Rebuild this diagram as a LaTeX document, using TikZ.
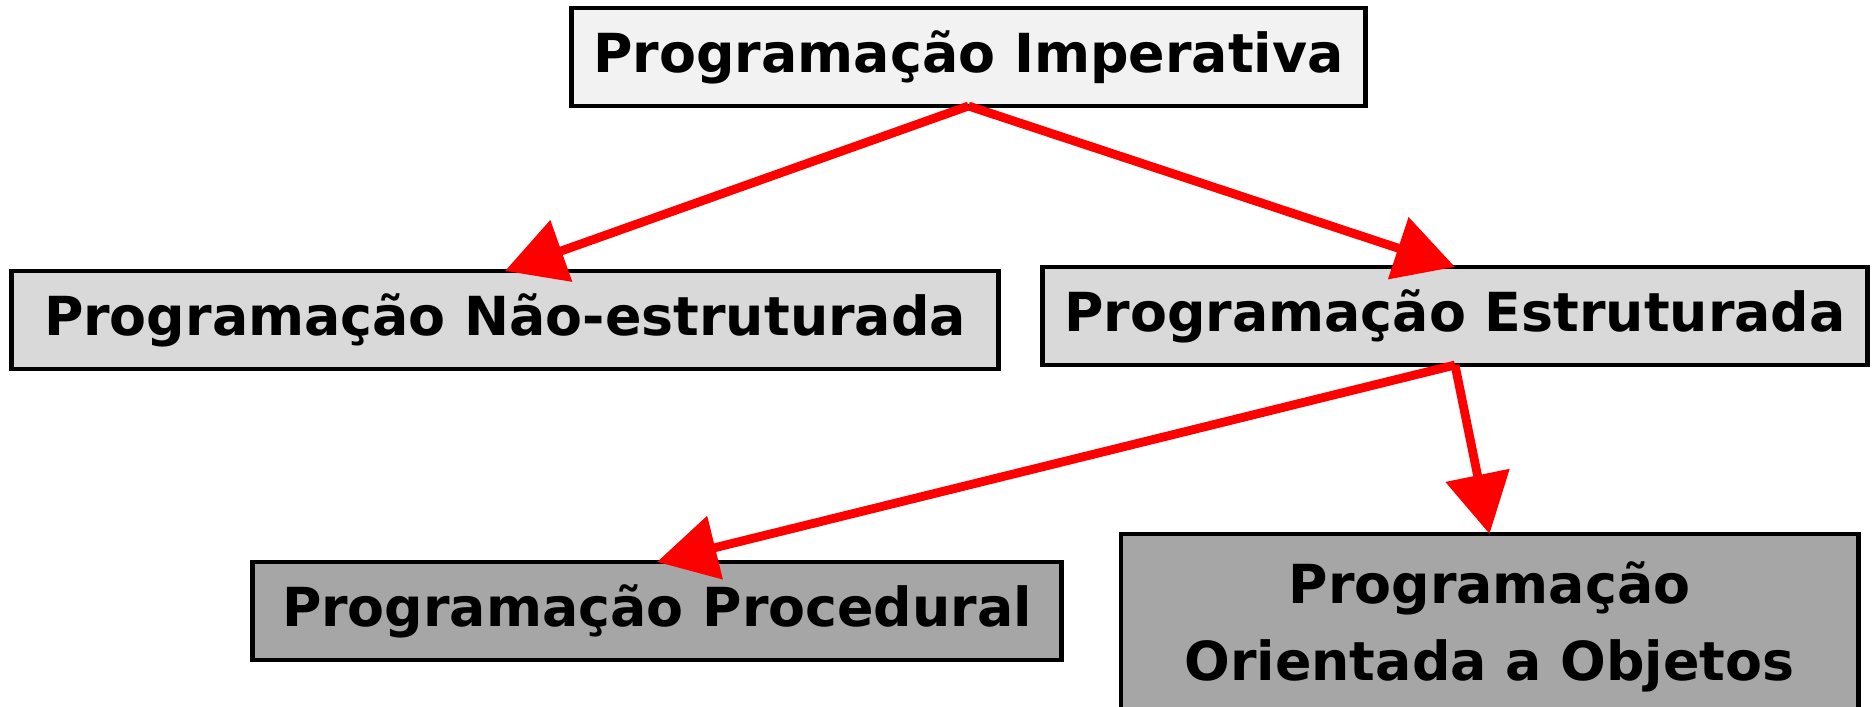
\documentclass[tikz,border=0pt]{standalone}
\usepackage{fontspec}
\setmainfont{DejaVu Sans}
\usetikzlibrary{arrows.meta}
\definecolor{cinzaclaro}{RGB}{242,242,242}
\definecolor{cinzamedio}{RGB}{217,217,217}
\definecolor{cinzaescuro}{RGB}{166,166,166}

\begin{document}
\begin{tikzpicture}[x=0.01cm, y=-0.01cm,
    caixa/.style={draw, rectangle, line width=1.3pt, inner sep=0pt, outer sep=0pt, minimum height=0.98cm, align=center, font=\fontsize{15.3}{22}\selectfont\bfseries},
    seta/.style={-{Triangle[length=17pt, width=18pt]}, red, line width=2.5pt}]
          \clip (0, 0) rectangle (1872, 707);
          \useasboundingbox (0, 0) rectangle (1872, 707);
          % nivel 1
          \node[caixa, fill=cinzaclaro, minimum width=7.93cm] (imp) at (968.5, 57) {Programação Imperativa};
          % nivel 2
          \node[caixa, fill=cinzamedio, minimum width=9.86cm] (naoestr) at (505, 320) {Programação Não-estruturada};
          \node[caixa, fill=cinzamedio, minimum width=8.24cm] (estr) at (1455, 316) {Programação Estruturada};
          % nivel 3
          \node[caixa, fill=cinzaescuro, minimum width=8.08cm] (proc) at (657, 611) {Programação Procedural};
          \node[caixa, fill=cinzaescuro, minimum width=7.37cm, minimum height=1.86cm] (obj) at (1489.5, 627) {Programação\\Orientada a Objetos};
          \draw[seta] (imp.south) to (naoestr.north);
          \draw[seta] (imp.south) to (estr.north);
          \draw[seta] (estr.south) to (proc.north);
          \draw[seta] (estr.south) to (obj.north);
        \end{tikzpicture}
\end{document}
